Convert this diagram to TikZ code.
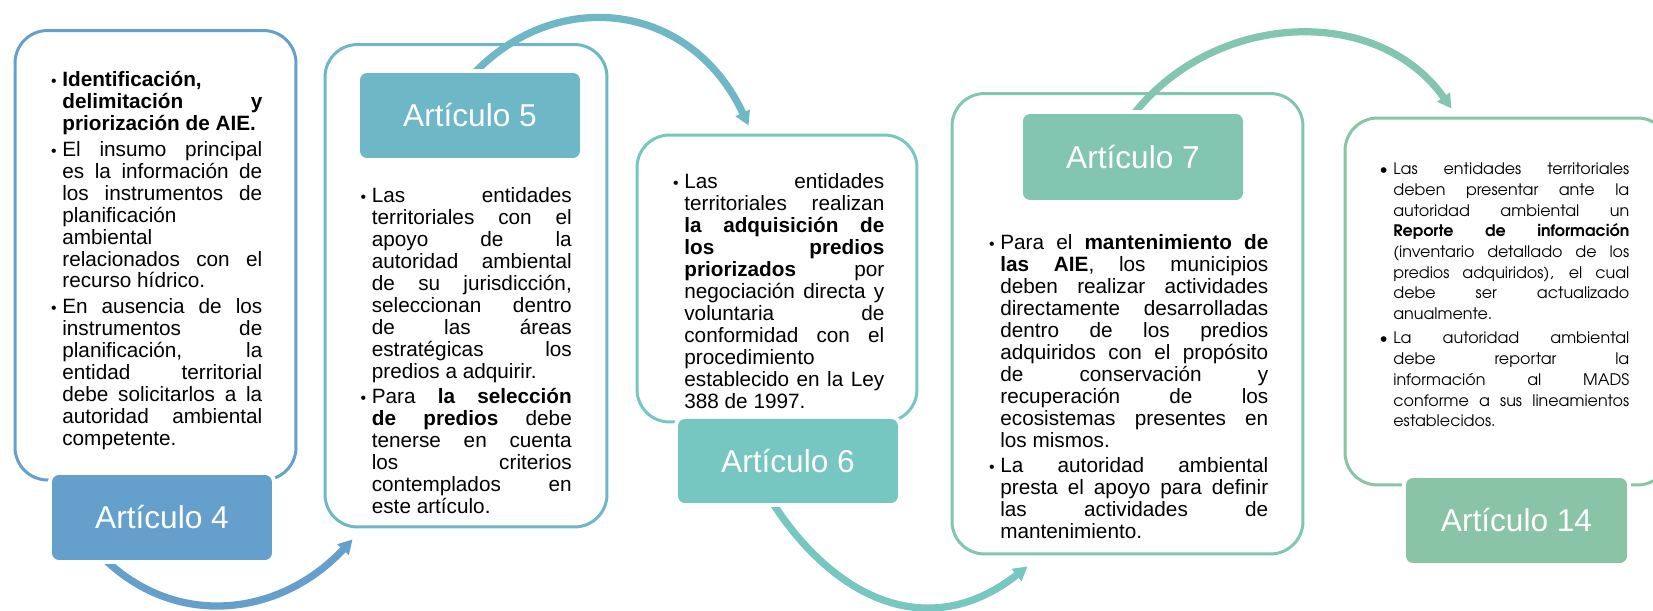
\documentclass[tikz,border=0pt]{standalone}
\usepackage{fontspec}
\setmainfont{Liberation Sans}
\newfontfamily\gothicfont{TeX Gyre Adventor}
\usetikzlibrary{positioning,calc,arrows.meta}
\definecolor{blue4}{HTML}{64A0CB}
\definecolor{teal5}{HTML}{6DB7C7}
\definecolor{teal6}{HTML}{76C6C2}
\definecolor{green7}{HTML}{82C6B2}
\definecolor{green14}{HTML}{89C4A6}
\pgfdeclarelayer{background}
\pgfsetlayers{background,main}
\newcommand{\bul}{\par\noindent\llap{\fontsize{9}{9}\selectfont\textbullet\hspace{3.2pt}}}

\begin{document}
\begin{tikzpicture}[x=0.02cm,y=-0.02cm,
    art box/.style={draw,line width=0.06cm,rounded corners=0.65cm,inner sep=0pt},
    art label/.style={preaction={draw=white,line width=0.16cm},rounded corners=0.14cm,inner sep=0pt,
                      minimum width=4.4cm,minimum height=1.7cm,text=white,
                      font=\fontsize{18}{20}\selectfont},
    art text/.style={anchor=north west,inner sep=0pt,align=justify,font=\fontsize{11.8}{12.5}\selectfont,
                     execute at begin node={\tolerance=10000\pretolerance=10000%
                       \hbadness=10000\hyphenpenalty=10000\parskip=2pt}},
    art arrow/.style={line width=0.145cm,-{Triangle[width=0.3cm,length=0.28cm]}}
  ]
  \useasboundingbox (0,0) rectangle (1653,611);
  \begin{pgfonlayer}{background}
  \node[art box,blue4,minimum width=5.62cm,minimum height=8.99cm] (b4) at (155.5,255.25) {};
  \node[art box,teal5,minimum width=5.64cm,minimum height=9.65cm] (b5) at (466,285.75) {};
  \node[art box,teal6,minimum width=5.6cm,minimum height=5.74cm] (b6) at (777,278.5) {};
  \node[art box,green7,minimum width=7.02cm,minimum height=9.21cm] (b7) at (1127.5,323.75) {};
  \node[art box,green14,minimum width=6.5cm,minimum height=7.34cm] (b14) at (1507.5,301.5) {};
  \end{pgfonlayer}

  \node[art label,fill=blue4] (a4) at (162,517.5) {Artículo 4};
  \node[art label,fill=teal5] (a5) at (470,115.5) {Artículo 5};
  \node[art label,fill=teal6,minimum height=1.68cm] (a6) at (788,461) {Artículo 6};
  \node[art label,fill=green7,minimum height=1.72cm] (a7) at (1133,157) {Artículo 7};
  \node[art label,fill=green14,minimum width=4.42cm] (a14) at (1516.5,520.5) {Artículo 14};

  \node[art text,text width=4cm] (t4) at (62,61) {%
    \bul\textbf{Identificación,\linebreak delimitación y\linebreak priorización de AIE.}
    \bul El insumo principal\linebreak es la información de\linebreak los instrumentos de\linebreak
      planificación\linebreak ambiental\linebreak relacionados con el\linebreak recurso hídrico.
    \bul En ausencia de los\linebreak instrumentos de\linebreak planificación, la\linebreak
      entidad territorial\linebreak debe solicitarlos a la\linebreak autoridad ambiental\linebreak competente.};
  \node[art text,text width=4cm] (t5) at (371.5,177) {%
    \bul Las entidades\linebreak territoriales con el\linebreak apoyo de la\linebreak
      autoridad ambiental\linebreak de su jurisdicción,\linebreak seleccionan dentro\linebreak
      de las áreas\linebreak estratégicas los\linebreak predios a adquirir.
    \bul Para \textbf{la selección\linebreak de predios} debe\linebreak tenerse en cuenta\linebreak
      los criterios\linebreak contemplados en\linebreak este artículo.};
  \node[art text,text width=4cm] (t6) at (684,163) {%
    \bul Las entidades\linebreak territoriales realizan\linebreak \textbf{la adquisición de\linebreak
      los predios\linebreak priorizados} por\linebreak negociación directa y\linebreak
      voluntaria de\linebreak conformidad con el\linebreak procedimiento\linebreak
      establecido en la Ley\linebreak 388 de 1997.};
  \node[art text,text width=5.36cm] (t7) at (1000,224) {%
    \bul Para el \textbf{mantenimiento de\linebreak las AIE}, los municipios\linebreak
      deben realizar actividades\linebreak directamente desarrolladas\linebreak
      dentro de los predios\linebreak adquiridos con el propósito\linebreak
      de conservación y\linebreak recuperación de los\linebreak
      ecosistemas presentes en\linebreak los mismos.
    \bul La autoridad ambiental\linebreak presta el apoyo para definir\linebreak
      las actividades de\linebreak mantenimiento.};
  \node[art text,text width=4.72cm,font=\gothicfont\fontsize{9.05}{11.8}\selectfont] (t14) at (1393,150) {%
    \bul Las entidades territoriales\linebreak deben presentar ante la\linebreak
      autoridad ambiental un\linebreak \textbf{Reporte de información}\linebreak
      (inventario detallado de los\linebreak predios adquiridos), el cual\linebreak
      debe ser actualizado\linebreak anualmente.
    \bul La autoridad ambiental\linebreak debe reportar la\linebreak
      información al MADS\linebreak conforme a sus lineamientos\linebreak establecidos.};

  \begin{pgfonlayer}{background}
  \draw[art arrow,blue4] ($(a4.south west)+(50,-4)$) .. controls +(74,74) and +(-72,77) .. ($(b5.south west)+(29,11)$);
  \draw[art arrow,teal5] ($(a5.north west)+(112,3)$) .. controls +(85,-91) and +(-57,-123) .. ($(b6.north west)+(113,-8)$);
  \draw[art arrow,teal6] ($(a6.south west)+(92,-5)$) .. controls +(64,102) and +(-98,77) .. ($(b7.south west)+(77,11)$);
  \draw[art arrow,green7] ($(a7.north west)+(109,3)$) .. controls +(80,-105) and +(-75,-106) .. ($(b14.north west)+(108,-8)$);
  \end{pgfonlayer}
\end{tikzpicture}
\end{document}
